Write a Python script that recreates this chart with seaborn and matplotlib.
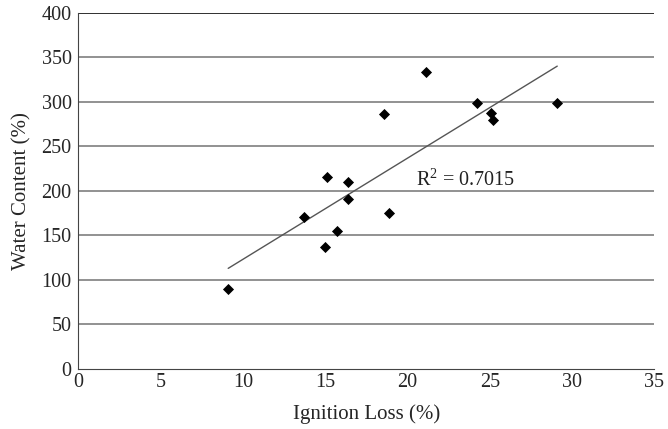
import numpy as np
import pandas as pd
import matplotlib
matplotlib.use("Agg")
import matplotlib.pyplot as plt
import seaborn as sns

# values
ignition_loss = [9.1, 13.7, 15.0, 15.1, 15.7, 16.4, 16.4, 18.6, 18.9, 21.1, 24.2, 25.1, 25.2, 29.1]
water_content = [89, 170, 137, 215, 155, 210, 191, 286, 175, 333, 299, 287, 280, 299]
r2_text = "R$^2$ = 0.7015"

df = pd.DataFrame({"ignition": ignition_loss, "water": water_content})

sns.set_style("white")
plt.rcParams["font.family"] = ["Liberation Serif", "DejaVu Serif"]
plt.rcParams["mathtext.fontset"] = "custom"
plt.rcParams["mathtext.rm"] = "Liberation Serif"

fig = plt.figure(figsize=(6.68, 4.29), dpi=100)
ax = fig.add_axes([0.1175, 0.141, 0.862, 0.829])

for v in range(50, 401, 50):
    ax.axhline(v, color="#929292", lw=1.4, zorder=0)

sns.scatterplot(x="ignition", y="water", data=df, marker="D", color="black",
                s=32, edgecolor="black", linewidth=0, ax=ax, zorder=3)

# linear trend line over the data range
k, b = np.polyfit(df["ignition"], df["water"], 1)
xs = np.array([df["ignition"].min(), df["ignition"].max()])
ax.plot(xs, k * xs + b, color="#555555", lw=1.0, zorder=2)

ax.text(20.5, 206, r2_text, fontsize=14.5, color="#222222")

ax.set_xlim(0, 35)
ax.set_ylim(0, 400)
ax.set_xticks(range(0, 36, 5))
ax.set_yticks(range(0, 401, 50))
ax.tick_params(axis="x", direction="in", length=6, width=1, color="#555555", labelsize=14.5, pad=3)
ax.tick_params(axis="y", length=0, labelsize=14.5, pad=5)
ax.set_xlabel("Ignition Loss (%)", fontsize=15, labelpad=9)
ax.set_ylabel("Water Content (%)", fontsize=15, labelpad=7)

ax.spines["right"].set_visible(False)
ax.spines["top"].set_visible(False)
ax.spines["left"].set_color("#444444")
ax.spines["bottom"].set_color("#444444")
ax.axhline(400, color="#333333", lw=1.4, zorder=0)

fig.savefig("out.png", dpi=100)
